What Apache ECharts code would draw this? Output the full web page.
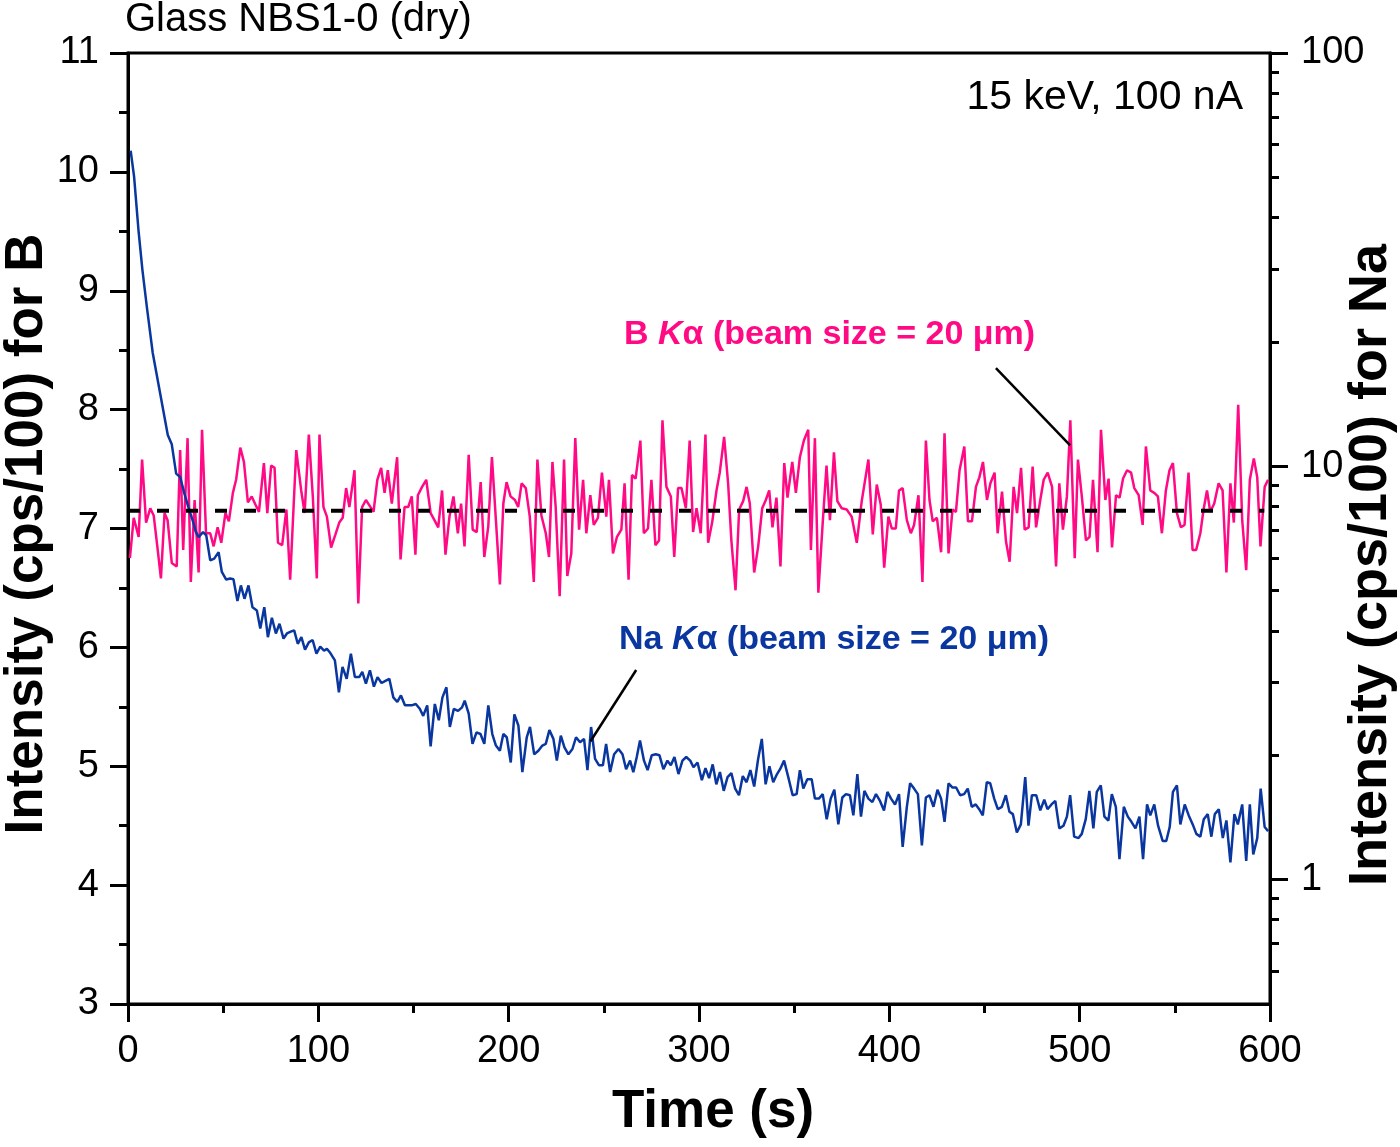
<!DOCTYPE html>
<html><head><meta charset="utf-8">
<script src="https://cdn.jsdelivr.net/npm/echarts@6/dist/echarts.min.js"></script>
<style>html,body{margin:0;padding:0;background:#fff}#c{width:1400px;height:1147px}</style>
</head><body><div id="c"></div>
<script>
// ---- data (time in s, intensity in cps/100) ----
const bKa = [[1,6.75],[3,7.09],[5.6,6.93],[7.4,7.58],[9.5,7.05],[11.7,7.17],[13.5,7.11],[15.4,6.85],[17.3,6.58],[19.2,7.13],[20.8,7.07],[23,6.71],[25.6,6.68],[27.4,7.66],[29,6.82],[31.3,7.76],[33,6.55],[35,7.24],[37.1,6.63],[38.9,7.83],[41,6.96],[43.2,6.96],[45,6.85],[47.1,7.01],[49,6.88],[51.2,7.13],[53,7.06],[55.1,7.30],[56.8,7.41],[59,7.68],[60.9,7.56],[63,7.22],[65,7.27],[67,7.20],[68.8,7.14],[71.4,7.55],[73.2,7.13],[75.2,7.53],[77,7.51],[78.8,6.88],[81,6.86],[83.2,7.16],[85.2,6.57],[88.4,7.66],[91,7.32],[92.8,7.13],[95,7.79],[97.1,7.27],[99.2,6.58],[100.6,7.79],[102.7,7.18],[104.5,7.10],[106.7,6.84],[109,6.95],[111,7.05],[112.8,7.09],[114.6,7.34],[116.3,7.18],[119,7.49],[121,6.37],[123,7.18],[125,7.24],[127,7.19],[129,7.14],[131,7.41],[133,7.51],[134.8,7.30],[136.5,7.49],[138.6,7.21],[141.4,7.60],[143.2,6.74],[145.3,7.18],[147.2,7.18],[149.1,7.27],[151,6.78],[152.3,7.28],[154.5,7.35],[156.7,7.41],[159,7.13],[161,7.07],[163,7.01],[165,7.32],[166.8,6.78],[168.9,7.10],[171,7.27],[173.3,6.96],[175,7.21],[176.8,6.85],[179,7.62],[181.1,6.99],[183.2,6.97],[185.3,7.39],[187.2,6.76],[189.3,7.02],[191.2,7.60],[193.3,7.07],[195.4,6.53],[197.2,7.21],[198.9,7.39],[201,7.27],[203.3,7.24],[205,7.18],[206.8,7.38],[209,7.34],[211.1,7.10],[213.2,6.55],[215.1,7.58],[217.2,7.11],[219.5,6.96],[221.2,6.76],[223,7.56],[224.7,7.18],[226.8,6.43],[229.1,7.58],[230.8,6.60],[232.9,6.79],[235,7.76],[237,6.99],[239.1,7.41],[240.8,6.96],[242.9,7.28],[244.7,7.03],[246.9,7.09],[249,7.47],[251.3,7.10],[252.7,7.41],[254.8,6.79],[256.9,6.93],[259.2,6.99],[260.9,7.38],[263,6.57],[264.8,7.45],[266.7,7.42],[269.2,7.74],[271,6.96],[273.2,7.00],[275,7.41],[277.1,6.86],[279,6.90],[280.8,7.91],[282.9,7.35],[285.2,7.27],[287,6.76],[289,7.34],[290.8,7.34],[293.1,7.17],[295.1,7.74],[296.9,6.97],[298.7,7.17],[300.9,6.96],[303.4,7.79],[304.8,6.88],[306.9,7.05],[309.2,7.32],[310.9,7.47],[313.2,7.77],[315.3,7.38],[317,6.90],[319.2,6.48],[321.1,7.16],[323.2,7.23],[325,7.35],[326.7,7.21],[329,6.63],[331.1,6.85],[333.2,7.17],[335.1,7.24],[336.9,7.32],[338.6,7.01],[340.7,7.26],[342.8,6.68],[344.8,7.55],[346.5,7.26],[349,7.56],[350.9,7.30],[353,7.60],[355.1,7.74],[357.4,7.83],[358.8,6.82],[360.9,7.76],[362.7,6.46],[365,7.05],[367,7.53],[368.8,7.07],[370.9,7.64],[372.7,7.23],[375,7.17],[377.6,7.16],[380.2,7.10],[382.9,6.88],[385.5,7.23],[389,7.58],[391.3,6.95],[393.4,7.37],[395.5,7.20],[397.3,6.67],[399.5,7.10],[401.3,7.00],[403.4,7.00],[405.1,7.32],[407,7.34],[409.2,7.07],[411.3,6.96],[413,7.03],[415.3,7.28],[417.4,6.55],[419.2,7.74],[421.1,7.24],[422.8,7.06],[425,7.09],[427.2,6.80],[429,7.80],[431.1,6.79],[433.2,7.16],[435,7.14],[436.9,7.49],[439.4,7.69],[441.3,7.06],[443.4,7.06],[445.5,7.35],[447.3,7.43],[449.2,7.56],[451.3,7.24],[453.1,7.38],[455.3,7.47],[456.9,6.96],[459.2,7.31],[461.3,6.89],[463.2,6.72],[465.3,7.35],[467.1,7.13],[469.2,7.51],[471.1,6.99],[473.2,7.01],[475.3,7.52],[477.1,7.01],[479.3,7.24],[481.1,7.41],[483.2,7.47],[485.5,7.35],[487.6,6.68],[489.3,7.38],[491.2,6.99],[493.3,7.27],[495.1,7.91],[497.4,6.75],[499.1,7.58],[501.2,7.26],[503.3,6.90],[505.2,6.93],[507,7.41],[509.4,6.80],[511.2,7.83],[513.5,7.24],[515.2,7.42],[517,6.84],[519.1,7.28],[521,7.26],[522.8,7.42],[524.9,7.49],[527,7.47],[528.7,7.34],[531,7.28],[533.1,7.03],[534.8,7.69],[537.1,7.32],[539.2,7.30],[541.1,7.27],[543.2,6.96],[545.3,7.32],[547.2,7.49],[549,7.55],[551.1,7.13],[553.2,7.01],[555.1,7.03],[557.2,7.47],[559.3,6.82],[561.2,6.82],[563.4,6.96],[565.1,7.16],[566.9,7.32],[568.6,7.14],[570.7,7.21],[573,7.38],[575.1,7.32],[577.1,6.63],[579.2,7.38],[581,7.05],[583.3,8.04],[585.4,7.07],[587.5,6.65],[589.4,7.41],[591.5,7.59],[593.3,7.43],[595,6.85],[597.2,7.35],[599,7.41]];

const naKa = [[1.4,58.0],[3.2,50.2],[5.5,37.3],[7.6,29.8],[9.9,24.3],[13,18.8],[16.9,15.0],[20.9,11.9],[23,11.3],[25.3,9.60],[27.4,9.42],[29.6,8.60],[31.7,7.97],[34,7.39],[35.6,6.95],[37.1,6.74],[39.4,6.93],[41.1,6.81],[43.2,5.92],[45.3,5.98],[47.6,6.20],[49.3,5.55],[51.6,5.32],[53.7,5.35],[55.4,5.33],[57.5,4.72],[59.3,5.15],[61.2,4.78],[63.3,5.15],[65.4,4.56],[67.7,4.48],[69.5,4.05],[71.6,4.56],[73.5,3.86],[75.6,4.30],[77.7,3.94],[79.6,4.16],[81.7,3.83],[83.5,3.94],[85.5,3.98],[87.3,4.01],[89.2,3.72],[91.1,3.86],[93,3.60],[95,3.75],[97,3.80],[99,3.52],[101,3.66],[103,3.58],[104.5,3.62],[106,3.55],[108.7,3.39],[110.8,2.84],[112.7,3.27],[114.9,3.06],[117.1,3.52],[119.2,3.09],[121.5,3.09],[123.1,3.18],[125,2.98],[127.1,3.21],[129.2,2.93],[131.1,3.09],[133.2,2.99],[135.5,3.03],[137.3,3.06],[139.4,2.76],[141.5,2.69],[143.4,2.79],[145.5,2.64],[149,2.64],[151.2,2.66],[153.3,2.59],[155.1,2.49],[157.2,2.64],[159,2.10],[161.2,2.66],[163.3,2.43],[165.2,2.76],[167.3,2.92],[169.1,2.34],[171.2,2.59],[173.4,2.56],[175.5,2.61],[176.9,2.71],[179,2.52],[181,2.13],[183.1,2.27],[185.2,2.25],[187.2,2.13],[189.3,2.64],[191.4,2.25],[193.3,2.11],[195.4,2.05],[197.2,2.25],[199,2.21],[201.1,1.92],[203,2.51],[205.1,2.36],[207.2,1.82],[209.5,2.21],[211.2,2.34],[213.4,2.01],[215.6,2.05],[217.7,2.11],[219.5,2.13],[221.4,2.30],[223.5,2.19],[225.3,1.94],[227.4,2.23],[229.3,2.09],[231.4,2.01],[233.5,2.07],[235.4,2.21],[237.5,2.15],[239.6,2.19],[241.4,1.84],[243.3,2.34],[245.4,1.96],[247.5,1.89],[249.5,1.89],[251.2,2.13],[253.3,1.82],[255.4,2.01],[257.7,2.07],[259.8,2.01],[261.7,1.85],[263.8,1.94],[265.5,1.82],[267.3,1.98],[269,2.17],[271.1,1.94],[273,1.84],[275.2,2.00],[277.3,2.01],[279.2,2.00],[281.3,1.85],[283.4,1.94],[285.2,1.89],[287.1,1.98],[289.2,1.80],[291.3,1.94],[293.3,1.98],[295.4,1.94],[297.1,1.87],[299.2,1.92],[301.5,1.74],[303.4,1.86],[305.3,1.76],[307.2,1.90],[309.1,1.70],[311,1.82],[313,1.64],[315,1.77],[317,1.81],[319,1.66],[321,1.60],[323,1.78],[325,1.72],[327,1.84],[329,1.68],[331,1.95],[333,2.19],[335,1.70],[337,1.88],[339,1.72],[341,1.80],[342.6,1.85],[344.7,1.94],[346.9,1.77],[349.2,1.60],[351.3,1.61],[353,1.84],[354.8,1.66],[356.9,1.75],[359.2,1.75],[360.9,1.57],[363,1.57],[365,1.61],[367.1,1.40],[369.2,1.57],[371.1,1.65],[373.2,1.36],[375.3,1.58],[377.2,1.61],[379.3,1.60],[381.1,1.43],[383.2,1.80],[385.1,1.42],[386.9,1.64],[389,1.57],[391.1,1.54],[393,1.61],[395.1,1.55],[397.2,1.47],[399,1.63],[400.9,1.57],[403,1.52],[405.1,1.61],[407,1.20],[409.2,1.50],[410.9,1.71],[413,1.66],[415,1.61],[417.1,1.21],[419.2,1.58],[421.1,1.60],[423.2,1.50],[425.3,1.65],[427.2,1.57],[429,1.38],[431.1,1.71],[433.2,1.67],[435.1,1.67],[437.2,1.60],[439.3,1.61],[441.2,1.66],[443.3,1.50],[445.4,1.52],[447.2,1.48],[449.1,1.43],[451.2,1.72],[453,1.71],[455.1,1.57],[457,1.48],[459.1,1.50],[461.2,1.60],[463.1,1.46],[464.9,1.44],[467,1.30],[469.1,1.36],[471.4,1.77],[473.1,1.35],[474.9,1.60],[477.2,1.60],[479.3,1.47],[481.4,1.56],[483.1,1.48],[485.2,1.52],[487.2,1.55],[489.3,1.33],[491.5,1.35],[493.3,1.42],[495,1.60],[497.1,1.27],[499.4,1.26],[501.1,1.29],[503.2,1.40],[505.1,1.64],[507.2,1.33],[509,1.63],[511.1,1.69],[513,1.42],[515.1,1.39],[516.9,1.61],[519,1.50],[520.9,1.12],[523.2,1.50],[525.3,1.42],[527.2,1.38],[529.3,1.33],[531.4,1.42],[533.3,1.12],[535.4,1.52],[537.1,1.43],[539.2,1.52],[541.2,1.35],[543.6,1.24],[545.5,1.24],[547.3,1.34],[549,1.63],[551.1,1.69],[552.9,1.36],[555.2,1.52],[557.3,1.43],[559.4,1.36],[561.3,1.29],[563.4,1.27],[565.2,1.40],[567.3,1.44],[569.2,1.27],[571,1.44],[573.1,1.48],[575.2,1.26],[577.1,1.39],[579.2,1.10],[581.3,1.44],[583.1,1.36],[585.4,1.52],[587.5,1.11],[589.4,1.52],[591.2,1.15],[593.3,1.26],[595.1,1.66],[597.2,1.34],[599,1.31]];

const bMean = 7.15;              // dashed average line for B
const bMeanSpan = [0, 597];      // time span of the dashed line
const bLeader = [[456, 8.35], [495, 7.70]];   // B annotation pointer (left-axis units)
const naLeader = [[267, 5.81], [243, 5.21]];  // Na annotation pointer (left-axis units)

const xTicks = [0, 600, 100];          // min, max, interval
const leftTicks = [3, 11, 1];
const rightRange = [0.5, 100];
const rightMajor = [1, 10, 100];
const rightMinor = [0.6, 0.7, 0.8, 0.9, 2, 3, 4, 5, 6, 7, 8, 9, 20, 30, 40, 50, 60, 70, 80, 90];

const FONT = 'Arial, "Liberation Sans", sans-serif';
const PINK = '#ff0a84';
const BLUE = '#0a36a0';

const chart = echarts.init(document.getElementById('c'), null, {renderer: 'canvas'});
const axisLine = {show: true, lineStyle: {color: '#000', width: 3}};
const majorTick = {show: true, length: 18, lineStyle: {color: '#000', width: 3}};
const minorTick = {show: true, splitNumber: 2, length: 9, lineStyle: {color: '#000', width: 3}};
const lbl = {color: '#000', fontSize: 38, fontFamily: FONT};
const nameStyle = {color: '#000', fontSize: 53, fontWeight: 'bold', fontFamily: FONT};

chart.setOption({
  backgroundColor: '#fff',
  animation: false,
  grid: {left: 128, right: 130, top: 53, bottom: 143, containLabel: false, outerBoundsMode: 'none',
         show: true, borderColor: '#000', borderWidth: 3, backgroundColor: 'transparent'},
  xAxis: [{
    type: 'value', min: xTicks[0], max: xTicks[1], interval: xTicks[2], position: 'bottom',
    axisLine, axisTick: majorTick, minorTick,
    splitLine: {show: false}, minorSplitLine: {show: false},
    axisLabel: Object.assign({margin: 29}, lbl),
    name: 'Time (s)', nameLocation: 'middle', nameGap: 82,
    nameTextStyle: Object.assign({padding: [0, 0, 0, 28]}, nameStyle)
  }],
  yAxis: [{
    type: 'value', min: leftTicks[0], max: leftTicks[1], interval: leftTicks[2], position: 'left',
    axisLine, axisTick: majorTick, minorTick,
    splitLine: {show: false}, minorSplitLine: {show: false},
    axisLabel: Object.assign({margin: 29}, lbl)
  }, {
    type: 'log', logBase: 10, min: rightRange[0], max: rightRange[1], position: 'right',
    axisLine,
    axisTick: Object.assign({customValues: rightMajor}, majorTick),
    splitLine: {show: false},
    axisLabel: Object.assign({margin: 31, customValues: rightMajor, formatter: v => String(Math.round(v))}, lbl)
  }, {
    type: 'log', logBase: 10, min: rightRange[0], max: rightRange[1], position: 'right',
    axisLine: {show: false},
    axisTick: {show: true, customValues: rightMinor, length: 9, lineStyle: {color: '#000', width: 3}},
    splitLine: {show: false},
    axisLabel: {show: false}
  }],
  series: [
    {type: 'line', name: 'B Ka', xAxisIndex: 0, yAxisIndex: 0, data: bKa, showSymbol: false, symbol: 'none',
     lineStyle: {color: PINK, width: 2.5}, z: 3},
    {type: 'line', name: 'Na Ka', xAxisIndex: 0, yAxisIndex: 1, data: naKa, showSymbol: false, symbol: 'none',
     lineStyle: {color: BLUE, width: 2.5}, z: 3},
    {type: 'line', name: 'B mean', xAxisIndex: 0, yAxisIndex: 0, data: bMeanSpan.map(t => [t, bMean]), symbol: 'none',
     lineStyle: {color: '#000', width: 4, type: [12, 17]}, z: 4},
    {type: 'line', name: 'B leader', xAxisIndex: 0, yAxisIndex: 0, data: bLeader, symbol: 'none',
     lineStyle: {color: '#000', width: 2.5}, z: 5},
    {type: 'line', name: 'Na leader', xAxisIndex: 0, yAxisIndex: 0, data: naLeader, symbol: 'none',
     lineStyle: {color: '#000', width: 2.5}, z: 5}
  ],
  graphic: [
    {type: 'text', left: 125, top: 0, style: {text: 'Glass NBS1-0 (dry)', fontSize: 40, fontFamily: FONT, fill: '#000'}},
    {type: 'text', right: 157, top: 77, style: {text: '15 keV, 100 nA', fontSize: 41, fontFamily: FONT, fill: '#000'}},
    {type: 'text', x: 27, y: 534, rotation: Math.PI / 2, style: {
      text: 'Intensity (cps/100) for B', fontSize: 53, fontWeight: 'bold', fontFamily: FONT, fill: '#000',
      align: 'center', verticalAlign: 'middle'}},
    {type: 'text', x: 1371, y: 565, rotation: Math.PI / 2, style: {
      text: 'Intensity (cps/100) for Na', fontSize: 54, fontWeight: 'bold', fontFamily: FONT, fill: '#000',
      align: 'center', verticalAlign: 'middle'}},
    {type: 'text', left: 624, top: 318, style: {
      text: '{a|B }{i|K}{a|α (beam size = 20 μm)}',
      rich: {a: {fontSize: 34, fontWeight: 'bold', fontFamily: FONT, fill: PINK, color: PINK},
             i: {fontSize: 34, fontWeight: 'bold', fontStyle: 'italic', fontFamily: FONT, fill: PINK, color: PINK}}}},
    {type: 'text', left: 619, top: 623, style: {
      text: '{a|Na }{i|K}{a|α (beam size = 20 μm)}',
      rich: {a: {fontSize: 34, fontWeight: 'bold', fontFamily: FONT, fill: BLUE, color: BLUE},
             i: {fontSize: 34, fontWeight: 'bold', fontStyle: 'italic', fontFamily: FONT, fill: BLUE, color: BLUE}}}}
  ]
});
</script></body></html>
